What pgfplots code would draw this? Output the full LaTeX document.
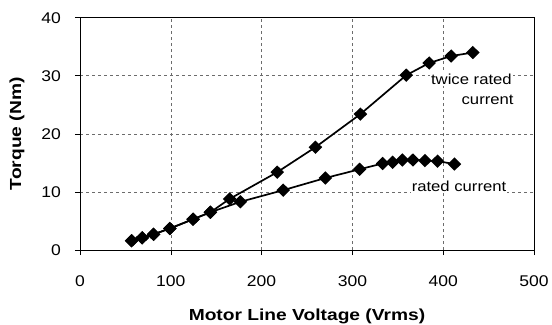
\documentclass[border=0pt]{standalone}
\usepackage{pgfplots}
\pgfplotsset{compat=1.18}
\usepackage{fontspec}
\setmainfont{Liberation Sans}
\begin{document}
\begin{tikzpicture}
\begin{axis}[
  name=ax,
  scale only axis,
  width=454pt, height=232.3pt,
  xmin=0, xmax=500, ymin=0, ymax=40,
  xtick={0,100,...,500}, ytick={0,10,...,40},
  /pgf/number format/assume math mode=true,
  tick label style={font=\fontsize{15.5}{17}\selectfont, xscale=1.13},
  xticklabel style={yshift=-17pt},
  yticklabel style={xshift=-9pt},
  xlabel={\textbf{Motor Line Voltage (Vrms)}},
  ylabel={\textbf{Torque (Nm)}},
  label style={font=\fontsize{16}{18}\selectfont},
  xlabel style={xscale=1.2, inner sep=0pt, at={(axis description cs:0.5,0)}, anchor=center, yshift=-66.5pt},
  ylabel style={xscale=1.2, at={(axis description cs:0,0.5)}, anchor=center, yshift=63pt},
  grid=major,
  major grid style={gray!85!black, dashed, line width=0.6pt},
  tick align=outside,
  major tick length=5pt,
  tick style={black, line width=0.6pt},
  axis line style={black, line width=0.8pt},
  xtick pos=bottom, ytick pos=left,
  clip=false,
]
\addplot[black, line width=1.7pt, mark=diamond*, mark size=5.5pt, mark options={solid, fill=black, xscale=1.35}] coordinates {
(56.8,1.6) (68.5,2.1) (81,2.7) (98.9,3.7) (124.5,5.3) (143.6,6.5) (164.8,8.8) (217.2,13.4) (259.3,17.7) (308.8,23.4) (359.3,30.1) (384.6,32.2) (408.8,33.4) (432.6,34.0)
};
\addplot[black, line width=1.7pt, mark=diamond*, mark size=5.5pt, mark options={solid, fill=black, xscale=1.35}] coordinates {
(56.8,1.6) (68.5,2.1) (81,2.7) (98.9,3.7) (124.5,5.3) (143.6,6.5) (176.6,8.3) (223.8,10.3) (270.3,12.4) (308,13.9) (333.3,14.9) (344.3,15.1) (355,15.5) (366.7,15.5) (379.9,15.4) (393.8,15.3) (412.4,14.8)
};
\node[fill=white, inner sep=1pt, anchor=east, font=\fontsize{14.5}{16}\selectfont, xscale=1.15] at (axis cs:477,29.4) {twice rated};
\node[fill=white, inner sep=1pt, anchor=east, font=\fontsize{14.5}{16}\selectfont, xscale=1.15] at (axis cs:479,25.8) {current};
\node[fill=white, inner sep=1pt, anchor=east, font=\fontsize{14.5}{16}\selectfont, xscale=1.15] at (axis cs:471,10.9) {rated current};
\end{axis}
\pgfresetboundingbox
\path ([xshift=-80pt,yshift=-74pt]ax.south west) rectangle ([xshift=18pt,yshift=17.7pt]ax.north east);
\end{tikzpicture}
\end{document}
